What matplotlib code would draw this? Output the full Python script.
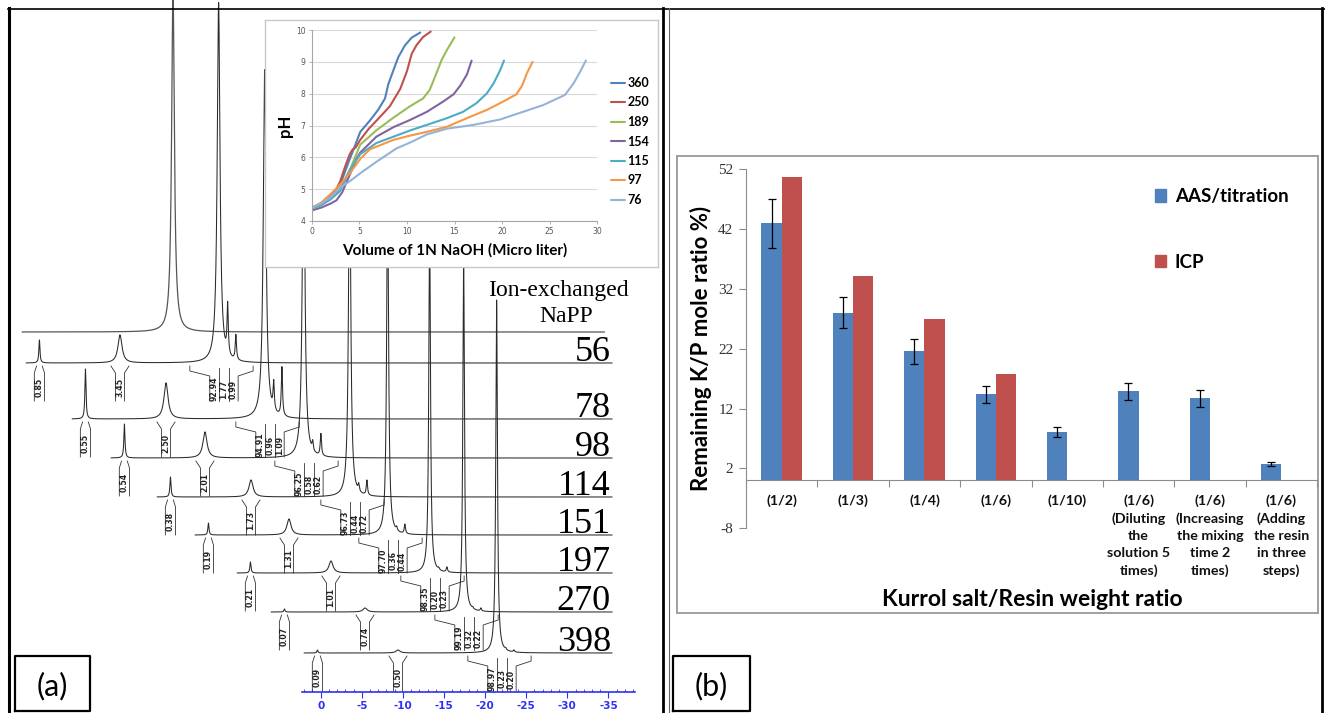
import numpy as np
import matplotlib
matplotlib.use("Agg")
import matplotlib.pyplot as plt
from matplotlib.patches import Patch

W, H = 1325, 713

# ====================== DATA ======================
# ---- (a) 31P NMR spectra (stacked) ----
spectrum_labels = ["56", "78", "98", "114", "151", "197", "270", "398"]
# peaks: orthophosphate, end groups, middle groups, two minor peaks (ppm)
peak_ppm = [0.4, -9.4, -21.4, -22.5, -23.5]
peak_hwhm = [0.08, 0.30, 0.20, 0.09, 0.09]
main_hwhm = [0.20, 0.20, 0.18, 0.16, 0.14, 0.12, 0.12, 0.12]
heights_56 = [23, 28, 360, 50, 25]
heights_78 = [50, 36, 349, 28, 49]
heights_98 = [34, 26, 350, 9, 22]
heights_114 = [20, 17, 350, 7, 15]
heights_151 = [12, 16, 350, 3.5, 9.5]
heights_197 = [11, 12, 350, 2, 5]
heights_270 = [3, 4, 350, 1.5, 3]
heights_398 = [3, 3, 353, 1.5, 2]
integ_56 = ["0.85", "3.45", "92.94", "1.77", "0.99"]
integ_78 = ["0.55", "2.50", "94.91", "0.96", "1.09"]
integ_98 = ["0.54", "2.01", "96.25", "0.58", "0.62"]
integ_114 = ["0.38", "1.73", "96.73", "0.44", "0.72"]
integ_151 = ["0.19", "1.31", "97.70", "0.36", "0.44"]
integ_197 = ["0.21", "1.01", "98.35", "0.20", "0.23"]
integ_270 = ["0.07", "0.74", "99.19", "0.32", "0.22"]
integ_398 = ["0.09", "0.50", "98.97", "0.23", "0.20"]
napp_peak_ppm = -21.4
napp_height = 345
napp_hwhm = 0.20
ppm_ticks = [0, -5, -10, -15, -20, -25, -30, -35]
ppm_ticklabels = ["0", "-5", "-10", "-15", "-20", "-25", "-30", "-35"]

# ---- (a) inset: titration curves ----
series_names = ["360", "250", "189", "154", "115", "97", "76"]
vol_360 = [0, 1, 2, 2.5, 3, 3.5, 4.0, 4.4, 5.1, 6.1, 7.0, 7.7, 8.05, 8.6, 9.1, 9.8, 10.5, 11.4]
ph_360 = [4.42, 4.52, 4.72, 4.88, 5.15, 5.55, 5.95, 6.25, 6.8, 7.15, 7.5, 7.85, 8.3, 8.75, 9.15, 9.52, 9.76, 9.92]
vol_250 = [0, 1, 2, 2.5, 3, 3.5, 4.0, 4.3, 4.6, 5.1, 6.0, 6.8, 8.2, 9.3, 10.0, 10.5, 11.0, 11.7, 12.5]
ph_250 = [4.42, 4.55, 4.78, 4.95, 5.25, 5.7, 6.1, 6.25, 6.3, 6.55, 6.9, 7.15, 7.6, 8.15, 8.7, 9.25, 9.52, 9.78, 9.95]
vol_189 = [0, 1, 2, 3, 4, 5.1, 6.8, 8.6, 10.3, 11.7, 12.4, 13.1, 13.65, 14.2, 15.0]
ph_189 = [4.4, 4.5, 4.7, 5.05, 5.6, 6.4, 6.85, 7.25, 7.6, 7.85, 8.12, 8.64, 9.06, 9.37, 9.77]
vol_154 = [0, 1, 2, 2.6, 3.2, 4.0, 4.7, 5.1, 6.8, 8.6, 10.3, 12.1, 13.8, 14.9, 15.6, 16.3, 16.8]
ph_154 = [4.33, 4.42, 4.55, 4.65, 4.9, 5.45, 5.95, 6.15, 6.65, 6.95, 7.17, 7.43, 7.75, 7.98, 8.25, 8.6, 9.04]
vol_115 = [0, 1, 2, 3, 4, 5.1, 6.8, 8.6, 10.3, 12.1, 14.2, 15.9, 17.3, 18.4, 19.1, 19.8, 20.2]
ph_115 = [4.38, 4.5, 4.68, 4.95, 5.6, 6.1, 6.45, 6.65, 6.84, 7.02, 7.23, 7.43, 7.7, 8.01, 8.32, 8.74, 9.04]
vol_97 = [0, 1, 2, 3, 4, 5.1, 6.1, 8.6, 10.3, 12.1, 14.2, 16.3, 18.4, 20.1, 21.5, 22.1, 22.6, 23.2]
ph_97 = [4.4, 4.58, 4.85, 5.15, 5.5, 5.95, 6.25, 6.55, 6.68, 6.8, 6.96, 7.23, 7.49, 7.75, 7.98, 8.25, 8.64, 9.0]
vol_76 = [0, 1, 2, 3, 4, 5.1, 6.8, 8.9, 10.3, 12.1, 14.2, 17.0, 19.8, 22.2, 24.3, 26.6, 27.5, 28.2, 28.8]
ph_76 = [4.42, 4.55, 4.75, 5.05, 5.25, 5.5, 5.86, 6.28, 6.46, 6.72, 6.9, 7.02, 7.19, 7.43, 7.64, 7.96, 8.32, 8.69, 9.04]

# ---- (b) bar chart ----
categories = ["(1/2)", "(1/3)", "(1/4)", "(1/6)", "(1/10)",
              "(1/6)\n(Diluting\nthe\nsolution 5\ntimes)",
              "(1/6)\n(Increasing\nthe mixing\ntime 2\ntimes)",
              "(1/6)\n(Adding\nthe resin\nin three\nsteps)"]
aas_values = [43.0, 28.0, 21.6, 14.4, 8.1, 14.9, 13.7, 2.7]
aas_errors = [4.1, 2.6, 2.1, 1.4, 0.85, 1.45, 1.35, 0.3]
icp_values = [50.7, 34.2, 26.9, 17.8, np.nan, np.nan, np.nan, np.nan]
bar_yticks = [-8, 2, 12, 22, 32, 42, 52]

# ====================== LAYOUT ======================
fig = plt.figure(figsize=(W / 100, H / 100), dpi=100)


def fb(x0, y0, x1, y1):
    return [x0 / W, 1 - y1 / H, (x1 - x0) / W, (y1 - y0) / H]


def fx(x):
    return x / W


def fy(y):
    return 1 - y / H


SANS_B = dict(family="Lato", fontweight="bold")
SERIF = "Liberation Serif"

# ---------------- (a) NMR ----------------
PX0, PXPP = 320.7, 8.22  # pixel of 0 ppm, pixels per ppm
stack_shift_ppm = [33.82, 28.22, 23.48, 17.88, 13.26, 8.15, 4.01, 0.0]
stack_base_px = [363, 419, 458, 497, 535, 573, 612, 653]
napp_shift_ppm, napp_base_px = 39.37, 332
right_end_ppm = (PX0 - 612) / PXPP

axn = fig.add_axes(fb(10, 0, 663, 691.7))
axn.set_zorder(0)
axn.set_xlim((PX0 - 10) / PXPP, (PX0 - 663) / PXPP)
axn.set_ylim(691.7, 0)
axn.patch.set_alpha(0)
for s in ("top", "left", "right"):
    axn.spines[s].set_visible(False)
blue = "#3030F0"
axn.spines["bottom"].set_color(blue)
axn.spines["bottom"].set_linewidth(1.2)
axn.spines["bottom"].set_bounds((PX0 - 635) / PXPP, (PX0 - 301.7) / PXPP)
axn.set_xticks(ppm_ticks)
axn.set_xticklabels(ppm_ticklabels)
axn.set_xticks(np.arange(2, -39, -1), minor=True)
axn.tick_params(axis="x", which="major", direction="out", length=4, color=blue,
                labelcolor=blue, labelsize=7.5, pad=3)
axn.tick_params(axis="x", which="minor", direction="in", length=2.5, color=blue)
for t in axn.get_xticklabels():
    t.set_fontweight("bold")
axn.set_yticks([])

all_heights = [heights_56, heights_78, heights_98, heights_114, heights_151,
               heights_197, heights_270, heights_398]
all_integ = [integ_56, integ_78, integ_98, integ_114, integ_151, integ_197,
             integ_270, integ_398]

lc = "#2a2a2a"
ic = "#333333"


def lorentz(x, p, h, g):
    return h * g * g / ((x - p) ** 2 + g * g)


# ion-exchanged NaPP trace
xx = np.linspace(36.3 - napp_shift_ppm, -34.5 - napp_shift_ppm, 9000)
yy = napp_base_px - lorentz(xx, napp_peak_ppm, napp_height, napp_hwhm)
axn.plot(xx + napp_shift_ppm, yy, color="#555555", lw=0.9)

INT_FS = 5.6


def iso_integral(xc, base, label, top_half, box_half):
    for sgn in (1, -1):
        axn.plot([xc + sgn * top_half, xc + sgn * box_half, xc + sgn * box_half],
                 [base + 3, base + 10, base + 38], color=ic, lw=0.6)
    axn.text(xc, base + 24, label, rotation=90, ha="center", va="center",
             fontsize=INT_FS, family="DejaVu Sans", fontweight="bold", color="#222222")


def group_integral(pm, base, labels):
    bw = 1.15
    c0 = pm + 0.5
    cs = [c0, c0 - bw, c0 - 2 * bw]
    edges = [c0 + bw / 2, c0 - bw / 2, c0 - 1.5 * bw, c0 - 2.5 * bw]
    axn.plot([pm + 3.5, pm + 3.5, edges[0], edges[0]],
             [base + 3, base + 8, base + 13, base + 38], color=ic, lw=0.6)
    axn.plot([pm - 4.2, pm - 4.2, edges[3], edges[3]],
             [base + 3, base + 8, base + 13, base + 38], color=ic, lw=0.6)
    for e in edges[1:3]:
        axn.plot([e, e], [base + 5, base + 38], color=ic, lw=0.6)
    for c, lab in zip(cs, labels):
        axn.text(c, base + 26, lab, rotation=90, ha="center", va="center",
                 fontsize=INT_FS, family="DejaVu Sans", fontweight="bold", color="#222222")


for k in range(len(spectrum_labels)):
    sh = stack_shift_ppm[k]
    base = stack_base_px[k]
    hts = all_heights[k]
    x = np.linspace(2.0, right_end_ppm - sh, 9000)
    y = np.zeros_like(x)
    for j in range(5):
        g = main_hwhm[k] if j == 2 else peak_hwhm[j]
        y += lorentz(x, peak_ppm[j], hts[j], g)
    axn.plot(x + sh, base - y, color=lc, lw=0.75)
    labs = all_integ[k]
    iso_integral(peak_ppm[0] + sh, base, labs[0], 0.35, 0.62)
    iso_integral(peak_ppm[1] + sh, base, labs[1], 1.1, 0.55)
    group_integral(peak_ppm[2] + sh, base, labs[2:])
    fig.text(fx(611), fy(base - 2), spectrum_labels[k], ha="right", va="baseline",
             fontsize=26, family=SERIF)

fig.text(fx(558), fy(296), "Ion-exchanged", ha="center", va="baseline",
         fontsize=17, family=SERIF)
fig.text(fx(566), fy(322), "NaPP", ha="center", va="baseline",
         fontsize=17, family=SERIF)

# ---------------- inset ----------------
bg = fig.add_axes(fb(265, 20, 658, 267))
bg.set_zorder(1)
bg.set_xticks([])
bg.set_yticks([])
for s in bg.spines.values():
    s.set_color("#C8C8C8")
    s.set_linewidth(1.0)

ins = fig.add_axes(fb(311.7, 30, 597.3, 221))
ins.set_zorder(2)
ins.patch.set_alpha(0)
ins.set_xlim(0, 30)
ins.set_ylim(4, 10)
ins.set_xticks(range(0, 31, 5))
ins.set_yticks(range(4, 11))
ins.grid(axis="y", color="#D9D9D9", lw=0.8)
ins.set_axisbelow(True)
for s in ("top", "right"):
    ins.spines[s].set_visible(False)
for s in ("left", "bottom"):
    ins.spines[s].set_color("#A6A6A6")
    ins.spines[s].set_linewidth(0.8)
ins.tick_params(labelsize=5.5, labelcolor="#555555", color="#A6A6A6", length=2.5, width=0.6, pad=2)

colors = ["#4F81BD", "#C0504D", "#9BBB59", "#8064A2", "#4BACC6", "#F79646", "#95B3D7"]
vols = [vol_360, vol_250, vol_189, vol_154, vol_115, vol_97, vol_76]
phs = [ph_360, ph_250, ph_189, ph_154, ph_115, ph_97, ph_76]
handles = []
for name, v, p, c in zip(series_names, vols, phs, colors):
    ln, = ins.plot(v, p, color=c, lw=1.5, label=name, solid_capstyle="round")
    handles.append(ln)
leg = ins.legend(handles=handles, loc="upper left", bbox_to_anchor=(fx(611), fy(77)),
                 bbox_transform=fig.transFigure, frameon=False, borderpad=0,
                 borderaxespad=0, handlelength=1.15, handletextpad=0.15,
                 labelspacing=0.6, prop=dict(family="Lato", weight="bold", size=9))
fig.text(fx(285), fy(126), "pH", rotation=90, ha="center", va="center",
         fontsize=12, zorder=5, **SANS_B)
fig.text(fx(455), fy(250), "Volume of 1N NaOH (Micro liter)", ha="center", va="center",
         fontsize=11, zorder=5, **SANS_B)

# ---------------- (b) bars ----------------
frameb = fig.add_axes(fb(677, 156, 1318, 613))
frameb.set_xticks([])
frameb.set_yticks([])
frameb.patch.set_alpha(0)
for s in frameb.spines.values():
    s.set_color("#A0A0A0")
    s.set_linewidth(1.4)

axb = fig.add_axes(fb(746, 169.3, 1317, 528.3))
axb.patch.set_alpha(0)
axb.set_xlim(-0.5, 7.5)
axb.set_ylim(-8, 52)
xpos = np.arange(len(categories))
bw = 0.284
b1 = axb.bar(xpos - bw / 2, aas_values, bw, color="#4F81BD", zorder=2,
             yerr=aas_errors, error_kw=dict(ecolor="black", elinewidth=0.9, capsize=2.8, capthick=0.9))
b2 = axb.bar(xpos + bw / 2, icp_values, bw, color="#C0504D", zorder=2)
for s in ("top", "right"):
    axb.spines[s].set_visible(False)
axb.spines["bottom"].set_position(("data", 0))
axb.spines["bottom"].set_color("#8C8C8C")
axb.spines["left"].set_color("#8C8C8C")
axb.set_xticks(np.arange(-0.5, 8, 1))
axb.set_xticklabels([])
axb.tick_params(axis="x", direction="out", length=5, color="#8C8C8C")
axb.set_yticks(bar_yticks)
axb.set_yticklabels([str(v) for v in bar_yticks])
axb.tick_params(axis="y", direction="out", length=5, color="#8C8C8C",
                labelsize=11, labelcolor="#333333", pad=4)
for t in axb.get_yticklabels():
    t.set_family(SERIF)
for i, lab in enumerate(categories):
    axb.annotate(lab, xy=(i, 0), xytext=(0, -10), textcoords="offset points",
                 ha="center", va="top", fontsize=10.3, linespacing=1.5,
                 family="Lato", fontweight="bold", color="#111111")
fig.text(fx(701), fy(348), "Remaining K/P mole ratio %)", rotation=90, ha="center",
         va="center", fontsize=16, **SANS_B)
fig.text(fx(1032), fy(600), "Kurrol salt/Resin weight ratio", ha="center", va="center",
         fontsize=16.5, **SANS_B)
axb.legend([Patch(color="#4F81BD"), Patch(color="#C0504D")], ["AAS/titration", "ICP"],
           loc="upper left", bbox_to_anchor=(fx(1155), fy(188)), bbox_transform=fig.transFigure,
           frameon=False, borderpad=0, borderaxespad=0, handlelength=0.6, handleheight=0.65,
           handletextpad=0.45, labelspacing=2.6,
           prop=dict(family="Lato", weight="bold", size=13.5))

# ---------------- frame & panel labels ----------------
ov = fig.add_axes([0, 0, 1, 1])
ov.set_zorder(10)
ov.patch.set_alpha(0)
ov.set_xlim(0, W)
ov.set_ylim(H, 0)
ov.axis("off")
ov.plot([9, 9], [8, H], color="black", lw=2.2)
ov.plot([8, W], [8.5, 8.5], color="black", lw=1.2)
ov.plot([663, 663], [8, H], color="black", lw=2.0)
ov.plot([668.5, 668.5], [8, H], color="#666666", lw=0.8)
ov.plot([1322, 1322], [8, H], color="black", lw=2.0)
ov.plot([15, 90, 90, 15, 15], [711, 711, 656, 656, 711], color="black", lw=1.6)
ov.plot([673, 750, 750, 673, 673], [711, 711, 656, 656, 711], color="black", lw=1.6)
ov.text(52, 686, "(a)", ha="center", va="center", fontsize=22, family="Lato")
ov.text(711, 686, "(b)", ha="center", va="center", fontsize=22, family="Lato")

fig.savefig("out.png", dpi=100)
